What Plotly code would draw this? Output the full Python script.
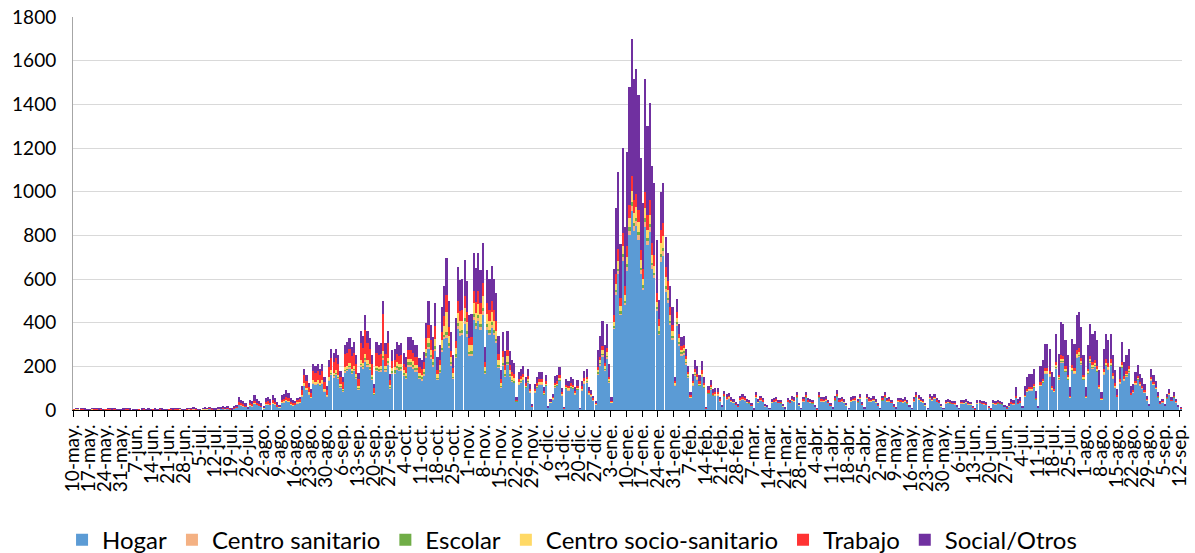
import pandas as pd
import plotly.graph_objects as go

start_date = "2020-05-10"

tick_labels = [
    "10-may.", "17-may.", "24-may.", "31-may.", "7-jun.", "14-jun.", "21-jun.", "28-jun.",
    "5-jul.", "12-jul.", "19-jul.", "26-jul.", "2-ago.", "9-ago.", "16-ago.", "23-ago.",
    "30-ago.", "6-sep.", "13-sep.", "20-sep.", "27-sep.", "4-oct.", "11-oct.", "18-oct.",
    "25-oct.", "1-nov.", "8-nov.", "15-nov.", "22-nov.", "29-nov.", "6-dic.", "13-dic.",
    "20-dic.", "27-dic.", "3-ene.", "10-ene.", "17-ene.", "24-ene.", "31-ene.", "7-feb.",
    "14-feb.", "21-feb.", "28-feb.", "7-mar.", "14-mar.", "21-mar.", "28-mar.", "4-abr.",
    "11-abr.", "18-abr.", "25-abr.", "2-may.", "9-may.", "16-may.", "23-may.", "30-may.",
    "6-jun.", "13-jun.", "20-jun.", "27-jun.", "4-jul.", "11-jul.", "18-jul.", "25-jul.",
    "1-ago.", "8-ago.", "15-ago.", "22-ago.", "29-ago.", "5-sep.", "12-sep.",
]

# one row per week (Sunday..Saturday), daily values
hogar = [
    2,3,4,2,3,2,1, 1,3,2,3,2,2,1, 1,2,3,2,2,2,1, 1,2,2,3,2,2,1, 1,2,2,2,2,2,1,
    1,2,2,2,2,1,1, 1,2,2,3,2,3,1, 1,3,4,3,4,2,2, 2,3,4,4,5,3,2, 2,4,5,6,4,6,3,
    3,7,11,24,22,18,14, 7,21,18,30,23,19,14, 9,25,27,23,31,25,16, 12,33,35,42,38,26,21,
    23,32,35,64,110,93,73, 55,123,116,123,110,123,87, 64,133,162,151,162,145,104,
    87,174,180,191,168,180,145, 95,200,190,220,200,185,140, 70,180,175,178,230,178,210,
    100,165,168,187,180,183,156, 146,201,201,192,178,178,144, 137,160,240,280,234,201,270,
    138,171,268,323,330,285,204, 143,239,373,340,342,393,336, 248,251,410,371,409,367,437,
    165,367,342,375,342,305,193, 104,203,155,207,155,129,124, 40,117,128,138,102,128,81,
    16,81,102,117,117,71,110, 10,34,50,105,110,133,68, 8,97,91,102,97,73,93,
    5,91,122,128,73,63,45, 26,164,204,245,180,236,127, 33,369,527,621,433,684,479,
    637,800,910,818,842,780,623, 549,840,754,816,647,603,452, 342,680,707,540,488,388,321,
    113,383,296,250,255,210,150, 55,112,156,138,110,152,102, 8,75,95,65,67,68,41,
    14,61,50,54,39,34,24, 16,45,50,45,34,31,20, 3,55,34,45,37,18,14,
    5,34,37,41,33,31,17, 7,37,33,42,39,56,20, 5,41,56,37,34,31,14,
    4,56,41,39,42,33,19, 7,44,61,37,41,34,20, 5,39,42,45,35,51,24,
    7,51,41,38,42,34,19, 5,44,56,38,41,33,17, 7,38,37,34,39,31,15,
    5,41,56,48,39,34,20, 6,51,42,51,37,33,18, 5,32,34,31,29,27,14,
    5,32,30,34,27,26,12, 4,30,33,29,27,24,12, 4,30,27,31,29,26,14,
    9,18,30,27,55,28,34, 11,61,84,91,91,103,49, 11,110,125,167,167,154,95,
    83,192,141,219,217,175,138, 57,179,167,239,247,209,138, 57,165,217,192,200,175,100,
    47,162,202,186,202,145,105, 60,122,193,136,155,174,69, 82,118,139,113,100,82,45,
    20,136,115,97,58,31,36, 20,53,70,42,58,36,14,
    9,
]

centro_sanitario = [
    0,1,1,1,0,1,0, 0,1,1,0,1,0,0, 0,1,0,1,1,0,0, 0,0,1,0,1,0,0, 0,0,1,1,0,0,0,
    0,1,0,0,1,0,0, 0,1,0,1,0,1,0, 0,1,1,0,1,1,0, 0,1,1,0,1,1,0, 0,1,1,1,1,1,0,
    0,0,1,1,1,1,1, 0,1,1,1,1,1,0, 0,1,1,1,1,1,1, 1,1,2,2,2,1,1,
    1,1,1,2,4,3,3, 2,4,4,4,4,4,3, 2,5,6,5,6,5,4,
    3,6,6,7,6,6,5, 3,7,7,9,7,7,5, 2,6,6,6,10,6,7,
    3,6,6,6,6,6,5, 5,7,7,6,6,6,5, 5,5,8,10,8,7,10,
    5,6,9,11,14,10,7, 5,8,13,12,12,14,12, 9,9,14,13,14,13,15,
    6,13,12,13,12,11,7, 4,7,5,7,5,5,4, 1,3,4,4,3,4,2,
    0,2,3,3,3,2,3, 0,1,1,3,3,4,2, 0,3,3,3,3,2,3,
    0,3,4,4,2,2,1, 1,5,7,8,6,8,4, 1,10,14,16,11,18,13,
    18,22,26,23,23,22,17, 14,23,20,21,17,16,12, 10,20,21,16,14,11,9,
    3,10,8,7,7,6,4, 2,3,5,4,3,4,3, 0,2,3,2,2,2,1,
    0,2,1,2,1,1,1, 0,1,1,1,1,1,1, 0,2,1,1,1,1,0,
    0,1,1,1,1,1,0, 0,1,1,1,1,2,1, 0,1,2,1,1,1,0,
    0,2,1,1,1,1,1, 0,1,2,1,1,1,1, 0,1,1,1,1,2,1,
    0,2,1,1,1,1,1, 0,1,2,1,1,1,0, 0,1,1,1,1,1,0,
    0,1,2,1,1,1,1, 0,2,1,2,1,1,0, 0,1,1,1,1,1,0,
    0,1,1,1,1,1,0, 0,1,1,1,1,1,0, 0,1,1,1,1,1,0,
    0,0,1,1,1,1,1, 0,1,2,2,2,2,1, 0,2,2,3,3,3,2,
    2,3,3,4,4,3,3, 1,3,3,4,4,4,3, 1,3,4,3,4,3,2,
    1,3,3,3,3,3,2, 1,2,3,2,3,3,1, 1,2,2,2,1,1,1,
    0,2,2,1,1,0,1, 0,1,1,1,1,1,0,
    0,
]

escolar = [
    0,0,0,0,0,0,0, 0,0,0,0,0,0,0, 0,0,0,0,0,0,0, 0,0,0,0,0,0,0, 0,0,0,0,0,0,0,
    0,0,0,0,0,0,0, 0,0,0,0,0,0,0, 0,0,0,0,0,0,0, 0,0,0,0,0,0,0, 0,0,0,0,0,0,0,
    0,0,0,0,0,0,0, 0,0,0,0,0,0,0, 0,0,0,0,0,0,0, 0,0,0,0,0,0,0,
    0,0,0,0,0,0,0, 0,1,1,1,1,1,0, 1,2,3,3,3,2,2,
    2,3,3,3,3,3,3, 3,5,5,7,5,5,4, 2,5,5,5,8,5,6,
    5,8,8,9,9,9,8, 7,10,10,10,9,9,7, 7,8,12,15,12,10,15,
    5,6,9,11,14,10,7, 5,8,13,12,12,14,12, 9,9,14,13,14,13,15,
    6,13,12,13,12,11,7, 4,7,5,7,5,5,4, 1,3,3,3,2,3,2,
    0,2,2,3,3,2,2, 0,1,1,2,2,3,2, 0,2,2,2,2,1,2,
    0,1,2,2,1,1,1, 0,3,3,4,3,4,2, 1,6,9,11,8,12,8,
    12,15,17,15,16,14,12, 9,15,13,14,11,10,8, 8,15,16,12,11,9,7,
    3,10,8,7,7,6,4, 2,3,5,4,3,4,3, 0,2,3,2,2,2,1,
    0,2,1,2,1,1,1, 0,1,1,1,1,1,0, 0,2,1,1,1,0,0,
    0,1,1,1,1,1,1, 0,1,1,1,1,2,1, 0,1,2,1,1,1,0,
    0,2,1,1,1,1,0, 0,1,2,1,1,1,1, 0,1,1,1,1,1,1,
    0,1,1,1,1,1,0, 0,1,2,1,1,1,0, 0,1,1,1,1,1,0,
    0,1,2,1,1,1,1, 0,1,1,1,1,1,0, 0,1,1,1,1,1,0,
    0,1,1,1,1,0,0, 0,1,1,1,1,0,0, 0,1,1,1,1,1,0,
    0,0,0,0,1,0,0, 0,1,1,2,2,2,1, 0,2,2,3,3,3,2,
    2,3,3,4,4,3,3, 1,3,3,4,4,4,3, 1,3,4,3,4,3,2,
    1,3,3,3,3,3,2, 1,2,3,2,3,3,1, 1,2,2,2,1,1,1,
    0,2,2,1,1,0,0, 0,1,1,1,1,0,0,
    0,
]

centro_socio_sanitario = [
    1,1,0,1,1,0,0, 0,1,0,1,0,1,0, 0,0,1,0,1,0,1, 0,1,1,1,0,0,0, 0,1,0,1,0,1,0,
    1,0,0,1,0,0,0, 0,0,1,0,1,1,0, 0,0,1,1,1,0,0, 0,1,1,1,1,0,0, 0,1,1,1,1,1,1,
    0,1,1,2,1,1,1, 0,1,1,2,2,1,1, 1,2,2,2,2,2,1, 1,2,2,3,2,2,1,
    2,2,2,4,8,6,5, 4,8,8,8,8,8,6, 4,9,11,10,11,10,7,
    6,12,12,13,12,12,10, 7,15,14,22,15,13,10, 5,12,12,12,20,12,14,
    8,14,14,16,15,15,13, 12,17,17,16,15,15,12, 11,13,20,25,20,17,30,
    17,21,33,40,90,35,25, 18,29,46,42,42,48,41, 30,31,50,46,50,45,54,
    20,45,42,46,42,37,24, 13,25,19,25,19,16,15, 2,7,8,8,6,8,5,
    1,5,6,7,7,4,6, 1,2,3,6,6,8,4, 1,6,5,6,6,4,5,
    0,5,7,8,4,4,3, 2,11,14,16,12,16,8, 2,19,28,33,23,36,25,
    35,44,51,45,47,43,35, 28,46,39,42,33,31,23, 25,50,52,40,36,29,24,
    6,20,16,13,14,11,8, 2,5,7,6,5,7,5, 1,3,4,3,3,3,2,
    1,3,2,2,2,2,1, 1,2,2,2,2,1,1, 0,2,2,2,2,1,1,
    0,2,2,2,1,1,1, 0,2,1,2,2,2,1, 0,2,2,2,2,1,1,
    0,2,2,2,2,1,1, 0,2,3,2,2,2,1, 0,2,2,2,2,2,1,
    0,2,2,2,2,2,1, 0,2,2,2,2,1,1, 0,2,2,1,2,1,1,
    0,2,2,2,2,1,1, 0,2,2,2,2,1,1, 0,1,2,1,1,1,1,
    0,1,1,2,1,1,1, 0,1,1,1,1,1,1, 0,1,1,1,1,1,1,
    0,1,1,1,2,1,1, 0,2,3,3,3,4,2, 0,4,5,6,6,6,3,
    3,7,5,8,8,6,5, 2,7,6,9,9,8,5, 2,6,8,7,7,6,4,
    2,6,7,6,7,5,4, 2,4,6,4,5,6,2, 2,3,4,3,3,2,1,
    1,4,3,3,2,1,1, 1,1,2,1,2,1,0,
    0,
]

trabajo = [
    1,2,2,1,2,1,1, 1,1,2,2,1,2,0, 1,2,2,1,1,1,0, 1,1,1,2,1,1,0, 0,1,1,1,1,1,1,
    1,1,1,2,1,1,0, 1,2,1,2,2,2,1, 1,2,2,2,2,2,1, 1,2,2,2,3,2,1, 1,2,2,3,2,3,2,
    1,2,4,8,7,6,4, 2,7,6,10,8,6,4, 3,8,9,8,10,8,5, 4,11,11,14,12,8,7,
    8,11,12,22,38,32,25, 19,42,40,42,38,42,30, 22,46,56,52,56,50,36,
    30,60,62,66,58,62,50, 34,80,70,110,80,68,52, 22,60,55,56,170,56,68,
    20,33,34,37,36,37,31, 29,40,40,38,36,36,29, 27,32,48,60,47,40,60,
    19,24,38,45,80,40,29, 20,34,52,48,48,55,47, 35,35,58,52,57,51,61,
    23,51,48,53,48,43,27, 15,28,22,29,22,18,17, 3,10,11,12,9,11,7,
    2,7,9,10,10,6,10, 1,3,4,9,10,12,6, 1,8,8,9,8,6,8,
    1,8,11,11,6,5,4, 2,14,17,20,15,20,11, 3,32,46,55,38,60,42,
    47,59,68,61,62,58,46, 47,76,65,70,56,52,39, 30,60,62,48,43,34,28,
    8,26,20,17,17,14,10, 6,12,16,14,11,16,10, 1,8,10,7,7,7,4,
    1,6,5,6,4,3,2, 2,5,5,5,3,3,2, 1,6,3,5,4,2,1,
    1,3,4,4,3,3,2, 1,4,3,4,4,6,2, 1,4,6,4,3,3,1,
    1,6,4,4,4,3,2, 1,5,6,4,4,3,2, 1,4,4,5,4,5,2,
    1,5,4,4,4,3,2, 1,5,6,4,4,3,2, 1,4,4,3,4,3,2,
    1,4,6,5,4,3,2, 1,5,4,5,4,3,2, 1,3,3,3,3,3,1,
    1,3,3,3,3,3,1, 1,3,3,3,3,2,1, 1,3,3,3,3,2,1,
    1,2,3,2,5,2,3, 1,5,7,8,8,9,4, 1,8,9,12,12,11,7,
    6,14,10,16,16,13,10, 4,13,12,17,18,15,10, 4,12,16,14,15,13,7,
    4,14,17,16,17,12,9, 5,10,16,11,13,14,6, 6,9,10,8,7,6,3,
    1,8,6,5,3,2,2, 1,3,4,2,3,2,1,
    1,
]

social_otros = [
    0,1,2,1,1,1,1, 1,1,1,2,1,1,1, 0,1,1,1,1,1,1, 1,1,1,1,1,1,1, 1,0,1,1,1,1,1,
    0,1,1,1,1,1,1, 0,1,1,1,1,1,1, 1,1,1,2,2,1,1, 1,1,2,2,2,2,2, 2,2,3,3,3,4,2,
    2,5,8,25,17,14,10, 6,15,14,25,16,15,11, 7,19,21,16,24,19,12, 7,23,25,29,26,18,15,
    6,9,10,18,30,26,19, 15,34,31,34,29,34,24, 17,35,42,39,42,38,27,
    22,45,47,50,43,47,37, 28,57,54,67,57,52,39, 19,47,47,48,62,48,55,
    30,49,50,57,54,55,47, 44,60,60,58,53,53,43, 41,48,72,107,69,60,107,
    59,72,113,136,169,120,86, 59,102,158,143,144,165,142, 104,105,174,155,173,154,184,
    70,154,144,158,144,128,80, 44,85,65,87,65,54,52, 11,32,34,37,28,34,22,
    5,22,28,32,32,19,31, 3,9,14,29,31,35,18, 2,26,25,28,26,21,26,
    2,26,34,35,21,17,12, 12,76,95,116,84,110,59, 18,212,300,354,247,390,273,
    431,540,629,552,570,528,421, 300,518,409,444,352,327,246, 88,175,181,138,125,99,83,
    17,61,46,39,40,33,24, 14,30,41,37,30,40,27, 2,21,24,17,18,18,12,
    4,15,14,14,11,9,6, 5,12,14,12,9,8,6, 1,14,9,12,10,5,4,
    2,9,10,11,9,8,4, 2,10,9,12,11,15,5, 2,11,15,10,9,8,4,
    1,15,11,11,12,9,5, 2,12,16,10,11,9,5, 2,11,12,12,9,14,6,
    2,14,11,10,12,9,5, 2,12,15,10,11,9,5, 2,10,10,10,11,8,4,
    2,11,15,13,11,10,5, 2,14,12,14,10,9,5, 2,9,9,8,7,7,4,
    1,9,8,9,7,7,4, 1,8,9,7,7,7,4, 1,8,7,9,7,7,4,
    5,9,15,14,40,18,21, 8,40,56,60,60,68,32, 8,74,84,112,112,103,64,
    54,130,95,152,146,119,91, 39,121,112,161,167,140,91, 39,111,146,130,134,119,66,
    26,92,117,106,117,82,59, 28,56,90,64,71,80,33, 28,39,47,38,35,28,15,
    6,37,32,28,16,9,10, 6,14,19,11,16,10,5,
    2,
]

series = [
    ("Hogar", hogar, "#5B9BD5"),
    ("Centro sanitario", centro_sanitario, "#F4B183"),
    ("Escolar", escolar, "#70AD47"),
    ("Centro socio-sanitario", centro_socio_sanitario, "#FFD966"),
    ("Trabajo", trabajo, "#FF3333"),
    ("Social/Otros", social_otros, "#7030A0"),
]

n_days = len(hogar)
for name, vals, _ in series:
    assert len(vals) == n_days, (name, len(vals))

days = pd.date_range(start_date, periods=n_days, freq="D")
x_centres = days + pd.Timedelta(hours=12)
tick_dates = pd.date_range(start_date, periods=len(tick_labels), freq="7D")

fig = go.Figure()
for name, vals, colour in series:
    fig.add_trace(go.Bar(
        x=x_centres, y=vals, name=name,
        marker=dict(color=colour, line=dict(width=0)),
    ))

fig.update_layout(
    width=1195, height=553,
    barmode="stack", bargap=0.25,
    plot_bgcolor="white", paper_bgcolor="white",
    margin=dict(l=73, r=13, t=17, b=143, autoexpand=False),
    font=dict(family="Lato, 'Liberation Sans', sans-serif", color="#000000"),
    legend=dict(
        orientation="h", x=0.45, xanchor="center", y=-0.331, yanchor="middle",
        font=dict(size=24), traceorder="normal", itemwidth=30,
    ),
    showlegend=True,
)

fig.update_xaxes(
    type="date",
    range=[days[0], days[-1] + pd.Timedelta(days=1)],
    tickmode="array", tickvals=tick_dates, ticktext=tick_labels,
    tickangle=-90, tickfont=dict(size=19),
    ticks="outside", ticklen=6, tickcolor="#000000", tickwidth=1,
    showline=True, linecolor="#000000", linewidth=1,
    showgrid=False, zeroline=False, automargin=False,
)
fig.update_yaxes(
    range=[0, 1800], tickmode="array", tickvals=list(range(0, 1801, 200)),
    tickfont=dict(size=19), ticklabelstandoff=12, ticklabeloverflow="allow",
    showgrid=True, gridcolor="#d9d9d9", gridwidth=1,
    showline=True, linecolor="#a6a6a6", linewidth=1,
    zeroline=False, ticks="", automargin=False,
)

# remove the page's default 8 px body margin so the figure fills the window
fig.write_html(
    "out.html",
    config={"displayModeBar": False},
    post_script="document.body.style.margin = '0px';",
)
